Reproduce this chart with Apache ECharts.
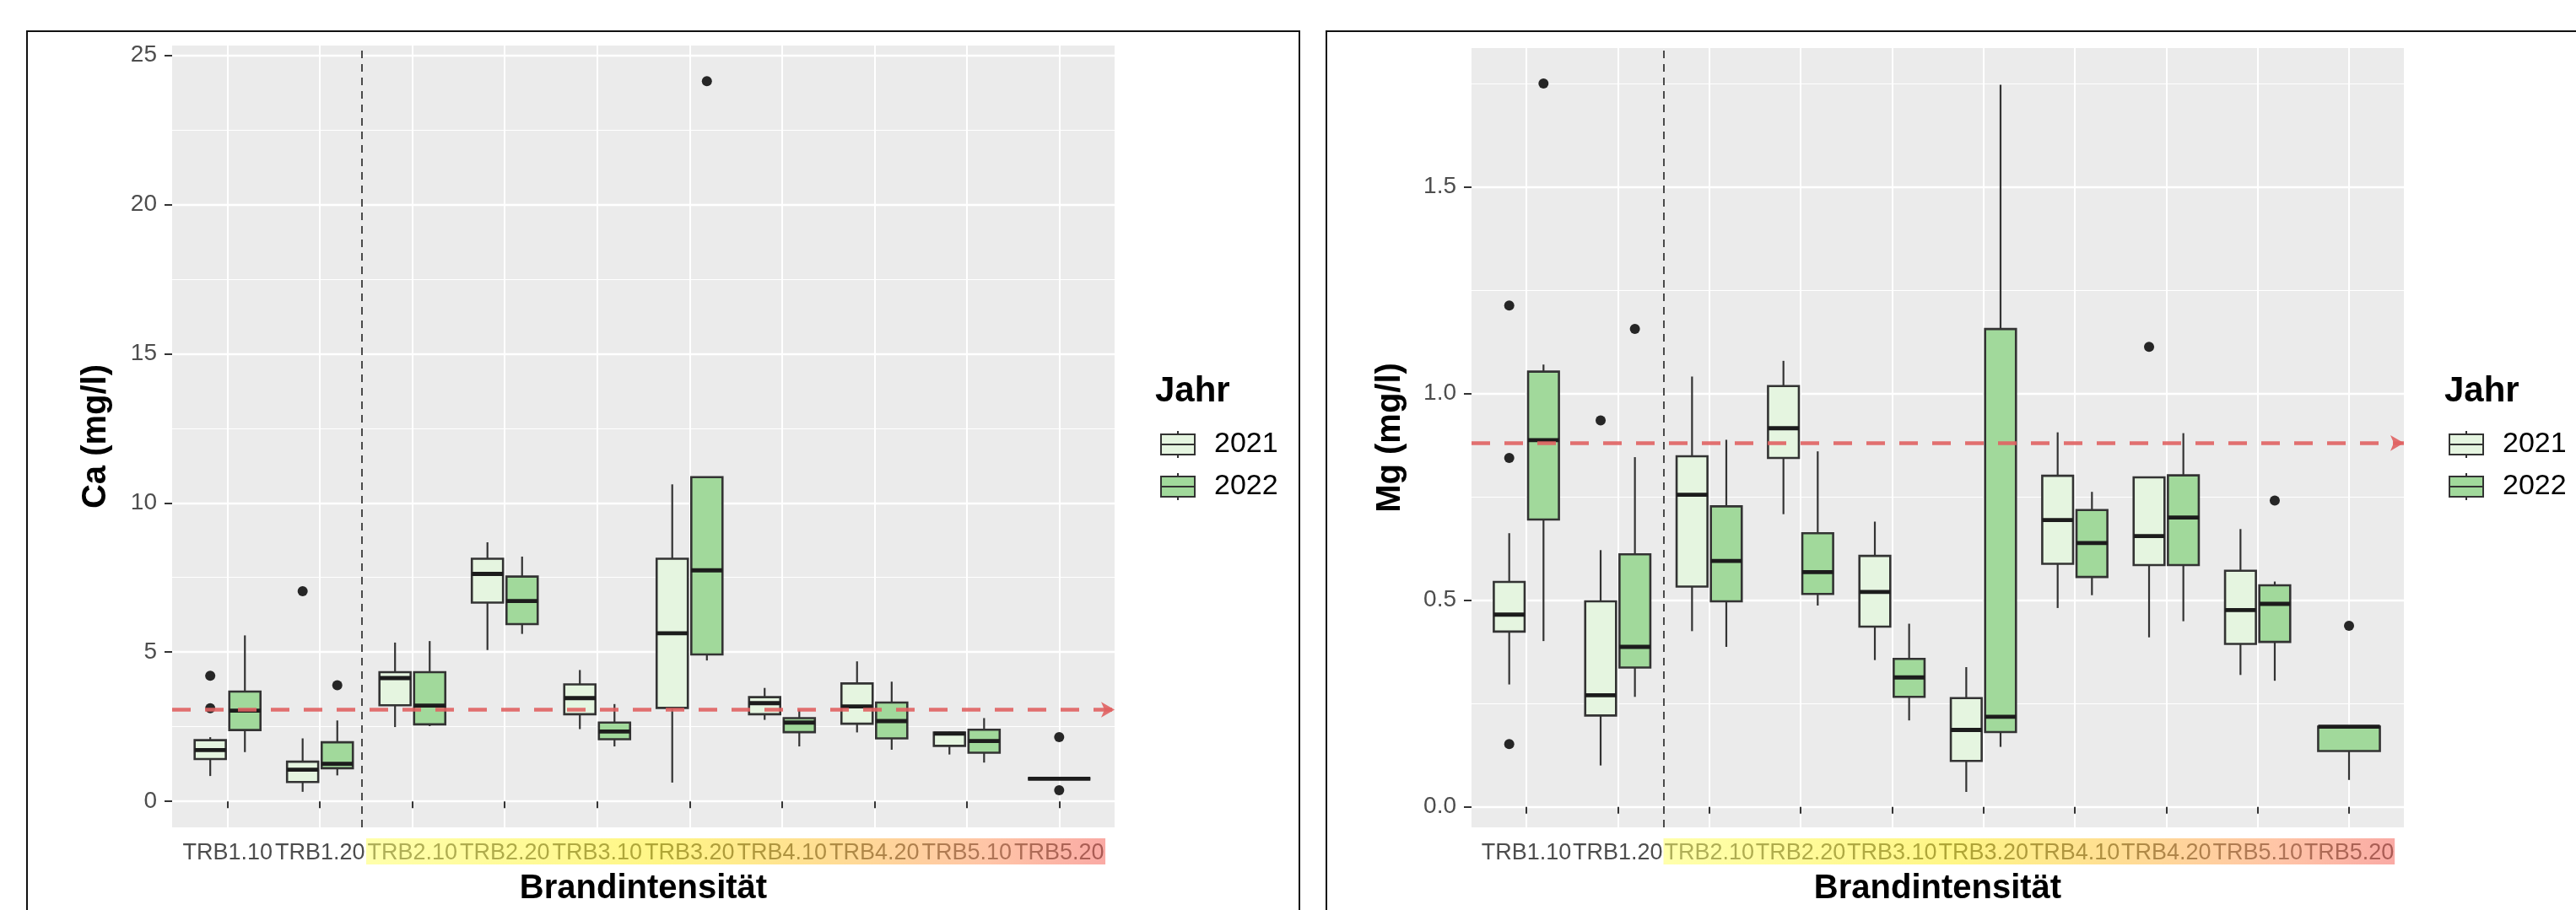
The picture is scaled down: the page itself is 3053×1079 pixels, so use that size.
<!DOCTYPE html>
<html>
<head>
<meta charset="utf-8">
<title>Ca und Mg nach Brandintensität</title>
<script src="https://cdn.jsdelivr.net/npm/echarts@6.0.0/dist/echarts.min.js"></script>
<style>
html, body { margin: 0; padding: 0; background: #fff; overflow: hidden; }
#page { position: relative; width: 3053px; height: 1079px; }
.chart { position: absolute; top: 0; height: 1079px; }
#chartCa { left: 0; width: 1556px; }
#chartMg { left: 1556px; width: 1497px; }
.frame { position: absolute; box-sizing: border-box; border: 2px solid #111; pointer-events: none; top: 36px; height: 1120px; }
#frameCa { left: 31px; width: 1510px; }
#frameMg { left: 1571px; width: 1600px; }
</style>
</head>
<body>
<div id="page">
  <div id="chartCa" class="chart"></div>
  <div id="chartMg" class="chart"></div>
  <div id="frameCa" class="frame"></div>
  <div id="frameMg" class="frame"></div>
</div>
<script>
const categories = ['TRB1.10', 'TRB1.20', 'TRB2.10', 'TRB2.20', 'TRB3.10', 'TRB3.20', 'TRB4.10', 'TRB4.20', 'TRB5.10', 'TRB5.20']
const years = ['2021', '2022']
// ab dieser Kategorie ist die Beschriftung farbig hinterlegt
const highlightFrom = 'TRB2.10'

// [unterer Whisker, Q1, Median, Q3, oberer Whisker], null = keine Messung
const caStats2021 = [
  [0.85, 1.42, 1.72, 2.05, 2.15],
  [0.32, 0.65, 1.06, 1.33, 2.11],
  [2.49, 3.22, 4.13, 4.33, 5.32],
  [5.07, 6.66, 7.62, 8.13, 8.68],
  [2.42, 2.92, 3.46, 3.92, 4.40],
  [0.63, 3.13, 5.63, 8.13, 10.62],
  [2.73, 2.92, 3.29, 3.49, 3.80],
  [2.31, 2.60, 3.18, 3.95, 4.69],
  [1.57, 1.86, 2.27, 2.31, 2.33],
  null
]
const caStats2022 = [
  [1.65, 2.39, 3.04, 3.68, 5.56],
  [0.87, 1.11, 1.26, 1.98, 2.71],
  [2.52, 2.58, 3.21, 4.33, 5.37],
  [5.61, 5.94, 6.71, 7.53, 8.20],
  [1.84, 2.08, 2.34, 2.64, 3.26],
  [4.72, 4.92, 7.74, 10.86, 10.86],
  [1.84, 2.32, 2.64, 2.79, 3.07],
  [1.73, 2.11, 2.69, 3.31, 4.01],
  [1.30, 1.63, 2.02, 2.40, 2.79],
  [0.76, 0.76, 0.76, 0.76, 0.76]
]
// [Kategorie (1-basiert), Wert]
const caOutliers2021 = [[1, 4.21], [1, 3.12], [2, 7.04]]
const caOutliers2022 = [[2, 3.89], [6, 24.13], [10, 2.15], [10, 0.37]]
const caLimit = 3.07
const caDivider = 2.45
const caTicks = [0, 5, 10, 15, 20, 25]
const caMinorTicks = [2.5, 7.5, 12.5, 17.5, 22.5]

const mgStats2021 = [
  [0.296, 0.424, 0.465, 0.544, 0.662],
  [0.100, 0.221, 0.270, 0.497, 0.621],
  [0.425, 0.533, 0.755, 0.848, 1.041],
  [0.708, 0.844, 0.916, 1.018, 1.079],
  [0.355, 0.436, 0.520, 0.607, 0.690],
  [0.036, 0.111, 0.186, 0.263, 0.338],
  [0.481, 0.588, 0.694, 0.801, 0.906],
  [0.410, 0.585, 0.655, 0.797, 0.797],
  [0.319, 0.394, 0.476, 0.571, 0.672],
  null
]
const mgStats2022 = [
  [0.401, 0.695, 0.887, 1.053, 1.070],
  [0.266, 0.337, 0.387, 0.611, 0.846],
  [0.387, 0.497, 0.595, 0.727, 0.888],
  [0.487, 0.515, 0.568, 0.662, 0.860],
  [0.209, 0.266, 0.313, 0.358, 0.443],
  [0.145, 0.181, 0.218, 1.156, 1.747],
  [0.512, 0.556, 0.638, 0.718, 0.762],
  [0.449, 0.585, 0.700, 0.802, 0.904],
  [0.305, 0.399, 0.491, 0.536, 0.545],
  [0.065, 0.135, 0.194, 0.194, 0.194]
]
const mgOutliers2021 = [[1, 1.213], [1, 0.844], [1, 0.152], [2, 0.935], [8, 1.113]]
const mgOutliers2022 = [[1, 1.750], [2, 1.156], [9, 0.741], [10, 0.438]]
const mgLimit = 0.88
const mgDivider = 2.5
const mgTicks = [0, 0.5, 1.0, 1.5]
const mgMinorTicks = [0.25, 0.75, 1.25, 1.75]

const fillColors = { '2021': '#E5F5E0', '2022': '#A1D99B' }
const LINE = '#333333'
const DODGE = 0.1875
const BOX_W = 0.3375
const mainFont = '"Liberation Sans", Arial, sans-serif'
const KEY_ICON = 'path://M0,4H40V28H0Z M0,16H40 M20,0V4 M20,28V32'

const panels = [
  {
    dom: 'chartCa', title: 'Ca (mg/l)', stats: [caStats2021, caStats2022], outliers: [caOutliers2021, caOutliers2022],
    limit: caLimit, divider: caDivider, ticks: caTicks, minorTicks: caMinorTicks, fmt: v => String(v),
    grid: { left: 204, top: 54, width: 1117, height: 933 }, nameGap: 70, legendLeft: 1375, titleLeft: 1369
  },
  {
    dom: 'chartMg', title: 'Mg (mg/l)', stats: [mgStats2021, mgStats2022], outliers: [mgOutliers2021, mgOutliers2022],
    limit: mgLimit, divider: mgDivider, ticks: mgTicks, minorTicks: mgMinorTicks, fmt: v => v.toFixed(1),
    grid: { left: 188, top: 57, width: 1105, height: 930 }, nameGap: 76, legendLeft: 1346, titleLeft: 1341
  }
]

// -1 / +1 = nebeneinander, 0 = allein in der Kategorie (volle Breite)
function dodgeOf(p, yearIdx, catIdx) {
  const other = p.stats[1 - yearIdx][catIdx]
  return other ? (yearIdx === 0 ? -1 : 1) : 0
}

function renderBox(params, api) {
  const x = api.value(0)
  const dodge = api.value(6)
  const unit = api.size([1, 0])[0]
  const cx = api.coord([x, 0])[0] + dodge * DODGE * unit
  const half = (dodge === 0 ? 2 * BOX_W : BOX_W) * unit / 2
  const y = i => api.coord([x, api.value(i)])[1]
  const lo = y(1), q1 = y(2), md = y(3), q3 = y(4), hi = y(5)
  const whisker = { stroke: LINE, lineWidth: 2.2 }
  return {
    type: 'group',
    children: [
      { type: 'line', shape: { x1: cx, y1: q3, x2: cx, y2: hi }, style: whisker },
      { type: 'line', shape: { x1: cx, y1: q1, x2: cx, y2: lo }, style: whisker },
      { type: 'rect', shape: { x: cx - half, y: q3, width: 2 * half, height: q1 - q3 },
        style: { fill: api.visual('color'), stroke: LINE, lineWidth: 2.6 } },
      { type: 'line', shape: { x1: cx - half, y1: md, x2: cx + half, y2: md }, style: { stroke: '#1c1c1c', lineWidth: 4.8 } }
    ]
  }
}

function buildOption(p) {
  const values = []
  p.stats.forEach(list => list.forEach(s => { if (s) values.push(...s) }))
  p.outliers.forEach(list => list.forEach(o => values.push(o[1])))
  const lo = Math.min(...values)
  const hi = Math.max(...values)
  const pad = (hi - lo) * 0.05
  p.yMin = lo - pad
  p.yMax = hi + pad
  const catPos = categories.map((c, i) => i + 1)

  const boxSeries = years.map((yr, yi) => ({
    name: yr,
    type: 'custom',
    renderItem: renderBox,
    itemStyle: { color: fillColors[yr] },
    encode: { x: 0, y: [1, 2, 3, 4, 5] },
    data: p.stats[yi].map((s, ci) => s ? [ci + 1, ...s, dodgeOf(p, yi, ci)] : null).filter(Boolean),
    silent: true,
    z: 3
  }))
  const outlierSeries = years.map((yr, yi) => ({
    name: yr,
    type: 'scatter',
    symbolSize: 12,
    itemStyle: { color: '#262626', opacity: 1 },
    data: p.outliers[yi].map(([c, v]) => [c + dodgeOf(p, yi, c - 1) * DODGE, v]),
    silent: true,
    z: 4
  }))
  const dividerSeries = {
    name: 'Trennlinie', type: 'scatter', data: [], silent: true,
    markLine: {
      silent: true, animation: false, symbol: ['none', 'none'], label: { show: false },
      lineStyle: { type: [9, 7], color: '#222', width: 1.6 },
      data: [{ xAxis: p.divider }]
    }
  }
  const limitSeries = {
    name: 'Grenzwert', type: 'scatter', data: [], silent: true, z: 5,
    markLine: {
      silent: true, animation: false, symbol: ['none', 'arrow'], symbolSize: [14, 16], label: { show: false },
      lineStyle: { type: [22, 17], color: '#e06262', width: 4.5, opacity: 0.9 },
      data: [{ yAxis: p.limit }]
    }
  }

  return {
    animation: false,
    title: {
      text: 'Jahr', left: p.titleLeft, top: 443, padding: 0,
      textStyle: { fontSize: 42, fontWeight: 'bold', color: '#000', fontFamily: mainFont }
    },
    legend: {
      left: p.legendLeft, top: 510, orient: 'vertical', padding: 0,
      itemWidth: 40, itemHeight: 32, itemGap: 16, selectedMode: false,
      textStyle: { fontSize: 34, color: '#000', fontFamily: mainFont, padding: [0, 0, 0, 18] },
      data: years.map(yr => ({
        name: yr, icon: KEY_ICON,
        itemStyle: { color: fillColors[yr], borderColor: LINE, borderWidth: 2 }
      }))
    },
    grid: Object.assign({ show: true, backgroundColor: '#EBEBEB', borderWidth: 0 }, p.grid),
    xAxis: {
      type: 'value', min: 0.4, max: categories.length + 0.6,
      name: 'Brandintensität', nameLocation: 'middle', nameGap: 53,
      nameTextStyle: { fontSize: 40, fontWeight: 'bold', color: '#000', fontFamily: mainFont },
      axisLine: { show: false },
      axisTick: { show: true, length: 8, lineStyle: { color: LINE, width: 2 }, customValues: catPos },
      axisLabel: {
        customValues: catPos, margin: 17, color: '#4D4D4D', fontSize: 27, fontFamily: mainFont,
        showMinLabel: true, showMaxLabel: true, hideOverlap: false,
        formatter: v => categories[Math.round(v) - 1]
      },
      splitLine: { show: true, lineStyle: { color: '#fff', width: 2 } }
    },
    yAxis: [
      {
        type: 'value', min: p.yMin, max: p.yMax,
        name: p.title, nameLocation: 'middle', nameRotate: 90, nameGap: p.nameGap,
        nameTextStyle: { fontSize: 40, fontWeight: 'bold', color: '#000', fontFamily: mainFont },
        axisLine: { show: false },
        axisTick: { show: true, length: 9, lineStyle: { color: LINE, width: 2 }, customValues: p.ticks },
        axisLabel: {
          customValues: p.ticks, formatter: p.fmt, margin: 18, color: '#4D4D4D', fontSize: 28, fontFamily: mainFont,
          showMinLabel: true, showMaxLabel: true
        },
        splitLine: { show: true, lineStyle: { color: '#fff', width: 2.4 } }
      },
      {
        type: 'value', min: p.yMin, max: p.yMax, position: 'left',
        axisLine: { show: false },
        axisTick: { show: false, customValues: p.minorTicks },
        axisLabel: { show: false, customValues: p.minorTicks },
        splitLine: { show: true, lineStyle: { color: '#fff', width: 1.2 } }
      }
    ],
    series: [dividerSeries, ...boxSeries, ...outlierSeries, limitSeries]
  }
}

// farbiger Marker über den Beschriftungen der Brandstufen
function addHighlight(chart, p) {
  const start = categories.indexOf(highlightFrom) + 1 - 0.5
  const end = categories.length + 0.5
  const x0 = chart.convertToPixel({ xAxisIndex: 0 }, start)
  const x1 = chart.convertToPixel({ xAxisIndex: 0 }, end)
  const yb = chart.convertToPixel({ yAxisIndex: 0 }, p.yMin)
  chart.setOption({
    graphic: [{
      type: 'rect', silent: true, z: 100,
      shape: { x: x0, y: yb + 13, width: x1 - x0, height: 31 },
      style: {
        opacity: 0.55,
        fill: new echarts.graphic.LinearGradient(0, 0, 1, 0, [
          { offset: 0, color: '#ffff66' },
          { offset: 0.4, color: '#ffee22' },
          { offset: 0.62, color: '#ffc23a' },
          { offset: 0.84, color: '#ff955e' },
          { offset: 1, color: '#f5645a' }
        ])
      }
    }]
  })
}

panels.forEach(p => {
  const chart = echarts.init(document.getElementById(p.dom))
  chart.setOption(buildOption(p))
  addHighlight(chart, p)
})
</script>
</body>
</html>
